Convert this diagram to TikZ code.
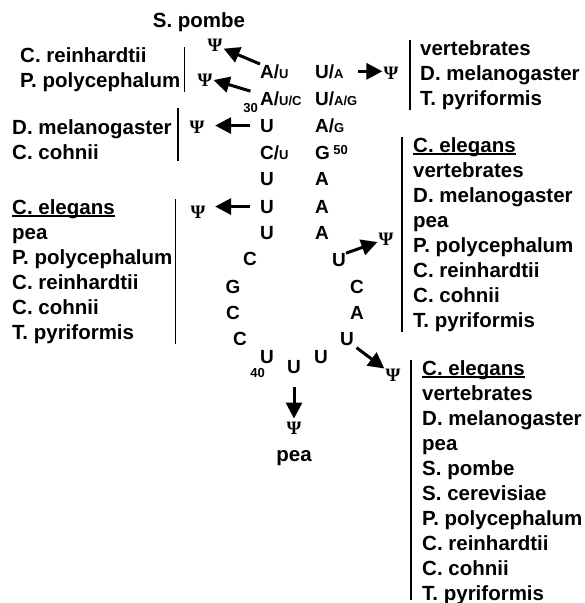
\documentclass[tikz,border=0pt]{standalone}
\usepackage{fontspec}
\setmainfont{Liberation Sans}
\newfontfamily\psifont{Liberation Serif}
\usetikzlibrary{arrows.meta,positioning}
\newcommand{\altnt}[1]{{\fontsize{13}{13}\selectfont #1}}
\newcommand{\ulname}[1]{\setbox0\hbox{#1}\rlap{\rule[-2.6pt]{\wd0}{1.3pt}}\box0}
\tikzset{
  nt/.style={inner sep=0pt,font=\fontsize{19}{19}\selectfont\bfseries},
  num/.style={inner sep=0pt,font=\fontsize{13}{13}\selectfont\bfseries},
  psi/.style={inner sep=1pt,font=\psifont\fontsize{19}{19}\selectfont\bfseries},
  lbl/.style={inner sep=0pt,font=\fontsize{20.5}{25}\selectfont\bfseries},
  taxa/.style={lbl,align=left},
  bar/.style={line width=1.3pt},
  arr/.style={-{Triangle[length=16pt,width=16pt]},line width=3pt},
}

\begin{document}
\begin{tikzpicture}[x=1pt,y=1pt]
  \useasboundingbox (0,0) rectangle (585,-603);

  % stem, 5' side
  \node[nt,anchor=base west] (n29) at (260,-78) {A/\altnt{U}};
  \node[nt,anchor=base west] (n30) at (260,-105) {A/\altnt{U/C}};
  \node[nt,anchor=base west] (n31) at (260,-132) {U};
  \node[nt,anchor=base west] (n32) at (260,-159) {C/\altnt{U}};
  \node[nt,anchor=base west] (n33) at (260,-185) {U};
  \node[nt,anchor=base west] (n34) at (260,-213) {U};
  \node[nt,anchor=base west] (n35) at (260,-239) {U};
  % loop
  \node[nt] (n36) at (250,-259) {C};
  \node[nt] (n37) at (233,-287) {G};
  \node[nt] (n38) at (233,-313) {C};
  \node[nt] (n39) at (240,-339) {C};
  \node[nt] (n40) at (267,-357) {U};
  \node[nt] (n41) at (294,-367) {U};
  \node[nt] (n42) at (321,-357) {U};
  \node[nt] (n43) at (347,-339) {U};
  \node[nt] (n44) at (357,-313) {A};
  \node[nt] (n45) at (357,-287) {C};
  \node[nt] (n46) at (339,-260) {U};
  % stem, 3' side
  \node[nt,anchor=base west] (n47) at (315,-239) {A};
  \node[nt,anchor=base west] (n48) at (315,-213) {A};
  \node[nt,anchor=base west] (n49) at (315,-185) {A};
  \node[nt,anchor=base west] (n50) at (315,-159) {G};
  \node[nt,anchor=base west] (n51) at (315,-132) {A/\altnt{G}};
  \node[nt,anchor=base west] (n52) at (315,-105) {U/\altnt{A/G}};
  \node[nt,anchor=base west] (n53) at (315,-78) {U/\altnt{A}};

  % numbering
  \node[num,anchor=base east] (c30) at ([shift={(-2pt,-7pt)}]n30.base west) {30};
  \node[num,anchor=base east] (c40) at ([shift={(-2pt,-14pt)}]n40.base) {40};
  \node[num,anchor=north west] (c50) at ([xshift=3pt]n50.north east) {50};

  % pseudouridines
  \node[psi] (psi29) at (215,-45) {Ψ};
  \node[psi] (psi30) at (205,-80) {Ψ};
  \node[psi] (psi31) at (197,-127) {Ψ};
  \node[psi] (psi34) at (198,-212) {Ψ};
  \node[psi] (psi53) at (391,-73) {Ψ};
  \node[psi] (psi46) at (386,-239) {Ψ};
  \node[psi] (psi43) at (393,-375) {Ψ};
  \node[psi] (psi41) at (294,-428) {Ψ};

  % organisms
  \node[lbl,above=6pt of psi29,xshift=-16pt] (l29) {S. pombe};
  \node[lbl,below=15pt of psi41] (l41) {pea};
  \node[taxa,anchor=north west] (l30) at (20,-47) {C. reinhardtii\\P. polycephalum};
  \node[taxa,anchor=north west] (l31) at (12,-119) {D. melanogaster\\C. cohnii};
  \node[taxa,anchor=north west] (l34) at (12,-199)
    {\ulname{C. elegans}\\pea\\P. polycephalum\\C. reinhardtii\\C. cohnii\\T. pyriformis};
  \node[taxa,anchor=north west] (l53) at (420,-40)
    {vertebrates\\D. melanogaster\\T. pyriformis};
  \node[taxa,anchor=north west] (l46) at (413,-137)
    {\ulname{C. elegans}\\vertebrates\\D. melanogaster\\pea\\P. polycephalum\\C. reinhardtii\\C. cohnii\\T. pyriformis};
  \node[taxa,anchor=north west] (l43) at (422,-360)
    {\ulname{C. elegans}\\vertebrates\\D. melanogaster\\pea\\S. pombe\\S. cerevisiae\\P. polycephalum\\C. reinhardtii\\C. cohnii\\T. pyriformis};

  % bars
  \draw[bar] ([xshift=4pt]l30.north east) -- ([xshift=4pt]l30.south east);
  \draw[bar] ([shift={(6pt,11pt)}]l31.north east) -- ([shift={(6pt,-2pt)}]l31.south east);
  \draw[bar] ([xshift=3pt]l34.north east) -- ([xshift=3pt]l34.south east);
  \draw[bar] ([xshift=-10pt]l53.north west) -- ([xshift=-10pt]l53.south west);
  \draw[bar] ([xshift=-11pt]l46.north west) -- ([xshift=-11pt]l46.south west);
  \draw[bar] ([xshift=-11pt]l43.north west) -- ([shift={(-11pt,5pt)}]l43.south west);

  % modification arrows
  \draw[arr] (n29.north west) -- (psi29);
  \draw[arr,shorten <=10pt] ([yshift=-3pt]n30.north west) -- (psi30.east);
  \draw[arr,shorten <=10pt,shorten >=9.5pt] (n31.west) -- (n31.west -| psi31.east);
  \draw[arr,shorten <=10pt,shorten >=8.5pt] (n34.west) -- (n34.west -| psi34.east);
  \draw[arr,shorten <=14pt] (n53.east) -- (n53.east -| psi53.west);
  \draw[arr] (n46.north east) -- (psi46);
  \draw[arr,shorten <=3pt] (n43.south east) -- (psi43);
  \draw[arr,shorten <=13pt,shorten >=2pt] (n41.south) -- (psi41.north);
\end{tikzpicture}
\end{document}
